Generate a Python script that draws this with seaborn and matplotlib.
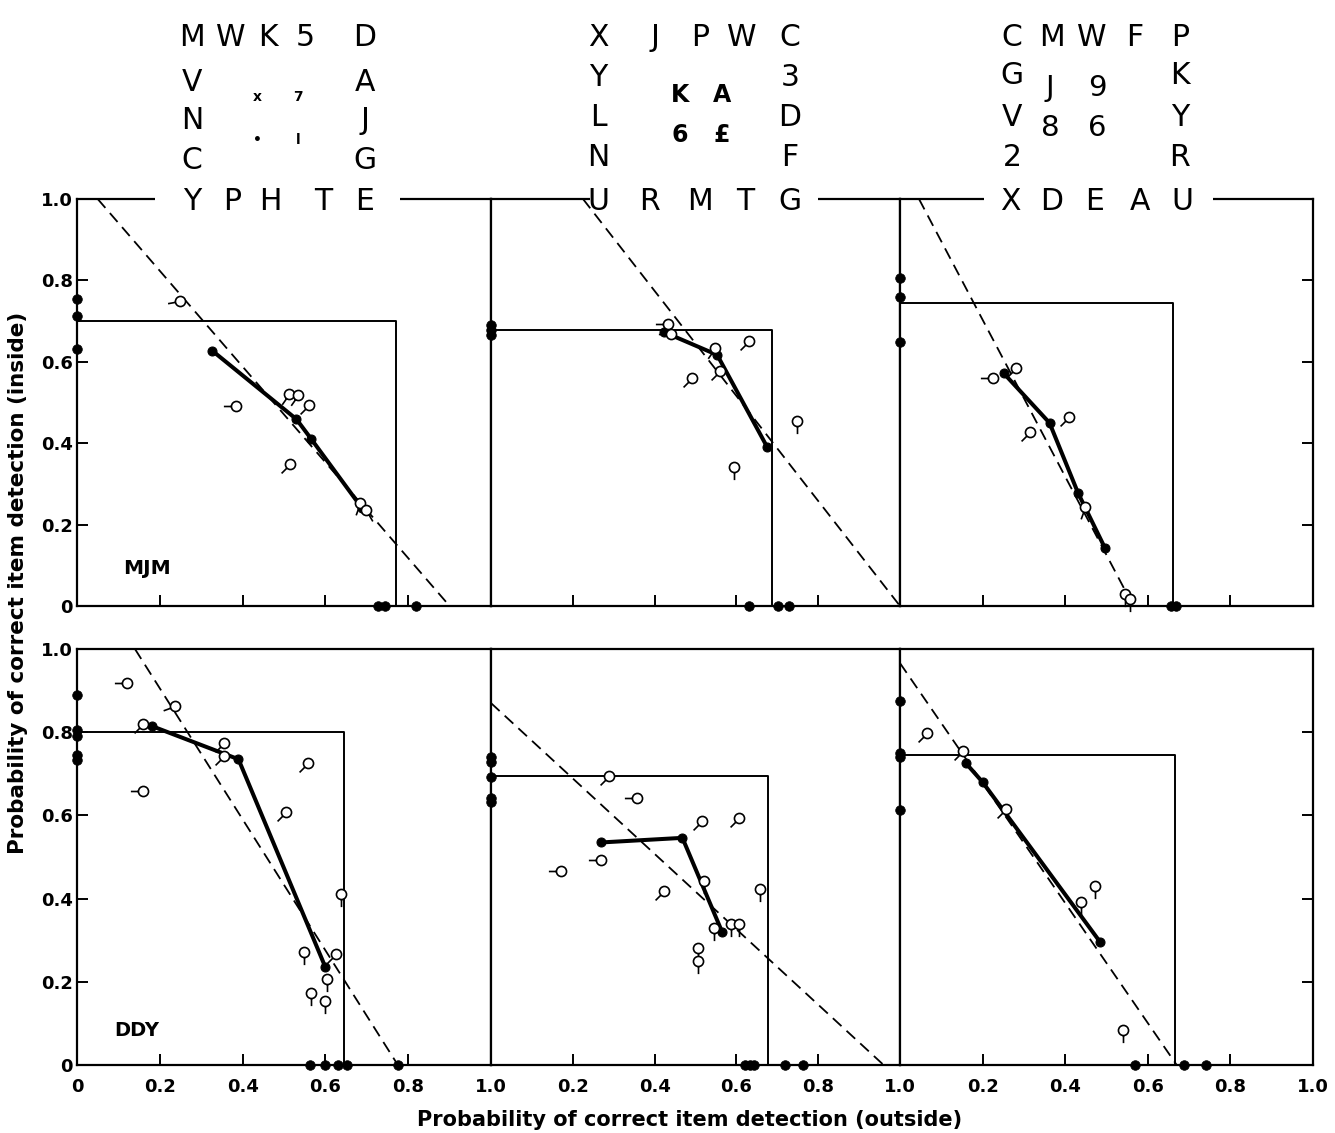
import numpy as np
import matplotlib
matplotlib.use("Agg")
import matplotlib.pyplot as plt
from matplotlib.path import Path
from matplotlib.patches import Rectangle
import seaborn as sns

# ---------------- text content ----------------
TICKS = [0.0, 0.2, 0.4, 0.6, 0.8, 1.0]
TICK_LABELS = ["0", "0.2", "0.4", "0.6", "0.8", "1.0"]
Y_LABEL = "Probability of correct item detection (inside)"
X_LABEL = "Probability of correct item detection (outside)"
SUBJECT_TOP = "MJM"
SUBJECT_BOTTOM = "DDY"

GRID1_ROWS = ["MWK5D", "VA", "NJ", "CG", "YPHTE"]
GRID1_INNER = ["x7", "•l"]
GRID2_ROWS = ["XJPWC", "Y3", "LD", "NF", "URMTG"]
GRID2_INNER = ["KA", "6£"]
GRID3_ROWS = ["CMWFP", "GK", "VY", "2R", "XDEAU"]
GRID3_INNER = ["J9", "86"]

# ---------------- data: top row (MJM) ----------------
T1_BOX = [0.77, 0.70]
T1_DASH_X = [0.05, 0.90]
T1_DASH_Y = [1.0, 0.0]
T1_LINE_X = [0.327, 0.53, 0.566, 0.688]
T1_LINE_Y = [0.627, 0.459, 0.41, 0.241]
T1_YDOTS = [0.754, 0.712, 0.631]
T1_XDOTS = [0.727, 0.744, 0.82]
T1_OPEN_X = [0.249, 0.383, 0.513, 0.534, 0.561, 0.515, 0.683, 0.698]
T1_OPEN_Y = [0.749, 0.491, 0.521, 0.518, 0.494, 0.349, 0.253, 0.236]
T1_OPEN_TAIL = [190, 180, 235, 235, 225, 225, 250, 300]

T2_BOX = [0.687, 0.678]
T2_DASH_X = [0.225, 1.0]
T2_DASH_Y = [1.0, 0.0]
T2_LINE_X = [0.423, 0.553, 0.675]
T2_LINE_Y = [0.673, 0.617, 0.391]
T2_YDOTS = [0.69, 0.677, 0.665]
T2_XDOTS = [0.631, 0.702, 0.729]
T2_OPEN_X = [0.433, 0.44, 0.548, 0.56, 0.491, 0.631, 0.748, 0.594]
T2_OPEN_Y = [0.693, 0.668, 0.634, 0.577, 0.56, 0.651, 0.455, 0.341]
T2_OPEN_TAIL = [180, 180, 235, 225, 225, 225, 270, 270]

T3_BOX = [0.66, 0.745]
T3_DASH_X = [0.046, 0.565]
T3_DASH_Y = [1.0, 0.0]
T3_LINE_X = [0.251, 0.362, 0.431, 0.496]
T3_LINE_Y = [0.572, 0.45, 0.278, 0.143]
T3_YDOTS = [0.806, 0.759, 0.649]
T3_XDOTS = [0.657, 0.669]
T3_OPEN_X = [0.226, 0.28, 0.41, 0.314, 0.448, 0.545, 0.558]
T3_OPEN_Y = [0.56, 0.585, 0.465, 0.428, 0.243, 0.03, 0.017]
T3_OPEN_TAIL = [180, 225, 225, 225, 250, 270, 270]

# ---------------- data: bottom row (DDY) ----------------
B1_BOX = [0.645, 0.80]
B1_DASH_X = [0.14, 0.775]
B1_DASH_Y = [1.0, 0.0]
B1_LINE_X = [0.18, 0.39, 0.60]
B1_LINE_Y = [0.815, 0.735, 0.235]
B1_YDOTS = [0.889, 0.805, 0.79, 0.745, 0.733]
B1_XDOTS = [0.562, 0.598, 0.631, 0.651, 0.776]
B1_OPEN_X = [0.121, 0.236, 0.16, 0.16, 0.354, 0.354, 0.558, 0.505, 0.637,
             0.548, 0.625, 0.603, 0.565, 0.60]
B1_OPEN_Y = [0.918, 0.863, 0.82, 0.659, 0.774, 0.743, 0.725, 0.608, 0.411,
             0.271, 0.267, 0.207, 0.173, 0.154]
B1_OPEN_TAIL = [180, 200, 225, 180, 225, 225, 225, 225, 270, 270, 225, 270, 270, 270]

B2_BOX = [0.677, 0.695]
B2_DASH_X = [0.0, 0.96]
B2_DASH_Y = [0.87, 0.0]
B2_LINE_X = [0.27, 0.468, 0.565]
B2_LINE_Y = [0.535, 0.546, 0.32]
B2_YDOTS = [0.74, 0.728, 0.692, 0.642, 0.632]
B2_XDOTS = [0.62, 0.634, 0.643, 0.72, 0.762]
B2_OPEN_X = [0.289, 0.357, 0.515, 0.607, 0.27, 0.17, 0.422, 0.522, 0.658,
             0.546, 0.587, 0.607, 0.505, 0.505]
B2_OPEN_Y = [0.695, 0.642, 0.587, 0.594, 0.493, 0.466, 0.418, 0.442, 0.423,
             0.329, 0.339, 0.339, 0.281, 0.25]
B2_OPEN_TAIL = [225, 180, 225, 225, 180, 180, 225, 270, 270, 270, 270, 270, 270, 270]

B3_BOX = [0.665, 0.745]
B3_DASH_X = [0.0, 0.67]
B3_DASH_Y = [0.966, 0.0]
B3_LINE_X = [0.16, 0.2, 0.485]
B3_LINE_Y = [0.725, 0.68, 0.295]
B3_YDOTS = [0.875, 0.75, 0.74, 0.613]
B3_XDOTS = [0.569, 0.688, 0.741]
B3_OPEN_X = [0.065, 0.153, 0.257, 0.438, 0.472, 0.54]
B3_OPEN_Y = [0.798, 0.755, 0.615, 0.392, 0.43, 0.084]
B3_OPEN_TAIL = [225, 225, 225, 270, 270, 270]

# ---------------- assemble panel table ----------------
def panel(box, dx, dy, lx, ly, yd, xd, ox, oy, ot):
    return dict(box=box, dx=dx, dy=dy, lx=lx, ly=ly, yd=yd, xd=xd, ox=ox, oy=oy, ot=ot)

PANELS = [
    [panel(T1_BOX, T1_DASH_X, T1_DASH_Y, T1_LINE_X, T1_LINE_Y, T1_YDOTS, T1_XDOTS, T1_OPEN_X, T1_OPEN_Y, T1_OPEN_TAIL),
     panel(T2_BOX, T2_DASH_X, T2_DASH_Y, T2_LINE_X, T2_LINE_Y, T2_YDOTS, T2_XDOTS, T2_OPEN_X, T2_OPEN_Y, T2_OPEN_TAIL),
     panel(T3_BOX, T3_DASH_X, T3_DASH_Y, T3_LINE_X, T3_LINE_Y, T3_YDOTS, T3_XDOTS, T3_OPEN_X, T3_OPEN_Y, T3_OPEN_TAIL)],
    [panel(B1_BOX, B1_DASH_X, B1_DASH_Y, B1_LINE_X, B1_LINE_Y, B1_YDOTS, B1_XDOTS, B1_OPEN_X, B1_OPEN_Y, B1_OPEN_TAIL),
     panel(B2_BOX, B2_DASH_X, B2_DASH_Y, B2_LINE_X, B2_LINE_Y, B2_YDOTS, B2_XDOTS, B2_OPEN_X, B2_OPEN_Y, B2_OPEN_TAIL),
     panel(B3_BOX, B3_DASH_X, B3_DASH_Y, B3_LINE_X, B3_LINE_Y, B3_YDOTS, B3_XDOTS, B3_OPEN_X, B3_OPEN_Y, B3_OPEN_TAIL)],
]

# ---------------- style ----------------
sns.set_theme(style="white")
plt.rcParams['font.family'] = ['DejaVu Sans']
plt.rcParams['axes.linewidth'] = 1.6
plt.rcParams['axes.edgecolor'] = 'black'
plt.rcParams['text.color'] = 'black'
plt.rcParams['xtick.color'] = 'black'
plt.rcParams['ytick.color'] = 'black'
plt.rcParams['xtick.labelcolor'] = 'black'
plt.rcParams['ytick.labelcolor'] = 'black'

W, H = 1335, 1133
fig = plt.figure(figsize=(W / 100, H / 100), dpi=100)
fig.patch.set_facecolor('white')

COLS = [(77, 414), (491, 409), (900, 413)]   # left px, width px
ROWS = [(199, 606), (649, 1065)]            # top px, bottom px


def tail_marker(angle):
    a = np.deg2rad(angle)
    circ = Path.circle((0, 0), 1.0)
    L = 2.5
    verts = list(circ.vertices) + [(L, L), (np.cos(a), np.sin(a)),
                                   (L * np.cos(a), L * np.sin(a))]
    codes = list(circ.codes) + [Path.MOVETO, Path.MOVETO, Path.LINETO]
    return Path(verts, codes)


for r, (ytop, ybot) in enumerate(ROWS):
    for c, (xl, w) in enumerate(COLS):
        p = PANELS[r][c]
        ax = fig.add_axes([xl / W, 1 - ybot / H, w / W, (ybot - ytop) / H])
        ax.set_facecolor('white')
        # box
        ax.plot([0, p['box'][0], p['box'][0]], [p['box'][1], p['box'][1], 0],
                color='black', lw=1.4, zorder=2)
        # dashed reference line
        sns.lineplot(x=p['dx'], y=p['dy'], ax=ax, color='black', lw=1.3,
                     linestyle=(0, (6.5, 3.8)), sort=False, estimator=None, zorder=2)
        # thick line with filled dots
        sns.lineplot(x=p['lx'], y=p['ly'], ax=ax, color='black', lw=2.9,
                     marker='o', markersize=6.5, markeredgecolor='black',
                     sort=False, estimator=None, zorder=3)
        # dots on axes
        sns.scatterplot(x=[0.0] * len(p['yd']), y=p['yd'], ax=ax, color='black',
                        s=48, edgecolor='black', linewidth=0.5, clip_on=False, zorder=6)
        sns.scatterplot(x=p['xd'], y=[0.0] * len(p['xd']), ax=ax, color='black',
                        s=48, edgecolor='black', linewidth=0.5, clip_on=False, zorder=6)
        # open circles with tails
        for ang in sorted(set(p['ot'])):
            idx = [i for i, t in enumerate(p['ot']) if t == ang]
            sns.scatterplot(x=[p['ox'][i] for i in idx], y=[p['oy'][i] for i in idx],
                            ax=ax, marker=tail_marker(ang), s=330, color='white',
                            edgecolor='black', linewidth=1.2, clip_on=False, zorder=5)
        ax.set_xlim(0, 1)
        ax.set_ylim(0, 1)
        ax.set_xlabel('')
        ax.set_ylabel('')
        for s in ax.spines.values():
            s.set_visible(True)
            s.set_linewidth(1.6)
            s.set_color('black')
        ax.set_xticks(TICKS)
        ax.set_yticks(TICKS)
        xl_labels = list(TICK_LABELS)
        if c > 0:
            xl_labels[0] = ''
        ax.set_xticklabels(xl_labels, fontsize=13, fontweight='bold', color='black')
        ax.set_yticklabels(TICK_LABELS, fontsize=13, fontweight='bold', color='black')
        ax.tick_params(axis='both', direction='in', length=8, width=1.4, colors='black')
        ax.tick_params(axis='x', bottom=True, top=False, labelbottom=(r == 1), pad=9)
        ax.tick_params(axis='y', left=(c == 0), right=(c == 2),
                       labelleft=(c == 0), labelright=False, pad=3)
        if r == 0 and c == 0:
            ax.text(0.17, 0.093, SUBJECT_TOP, fontsize=14.5, fontweight='bold',
                    ha='center', va='center', color='black')
        if r == 1 and c == 0:
            ax.text(0.145, 0.084, SUBJECT_BOTTOM, fontsize=14, fontweight='bold',
                    ha='center', va='center', color='black')

# gaps in the top border where the bottom letter row sits
for x1, x2 in [(155, 400), (590, 818), (984, 1213)]:
    fig.add_artist(Rectangle((x1 / W, 1 - 206 / H), (x2 - x1) / W, 14 / H,
                             transform=fig.transFigure, facecolor='white',
                             edgecolor='none', zorder=5))

# letter grids
GRIDS = [
    dict(rows=GRID1_ROWS, inner=GRID1_INNER, row_y=[35, 80, 118, 158, 199],
         row1_x=[192, 231, 268, 305, 365], side_x=[192, 365],
         row5_x=[192, 232, 270, 323, 365], inner_x=[257, 298], inner_y=[97, 140],
         inner_fs=10, inner_w='bold'),
    dict(rows=GRID2_ROWS, inner=GRID2_INNER, row_y=[35, 75, 115, 155, 199],
         row1_x=[598, 655, 700, 742, 790], side_x=[598, 790],
         row5_x=[598, 650, 700, 745, 790], inner_x=[680, 722], inner_y=[95, 135],
         inner_fs=17, inner_w='bold'),
    dict(rows=GRID3_ROWS, inner=GRID3_INNER, row_y=[35, 73, 115, 155, 199],
         row1_x=[1012, 1052, 1092, 1135, 1180], side_x=[1012, 1180],
         row5_x=[1010, 1052, 1095, 1140, 1182], inner_x=[1050, 1097], inner_y=[88, 128],
         inner_fs=21, inner_w='normal'),
]
CAP = 11  # half cap height in px, to place baselines
for g in GRIDS:
    for ri, row in enumerate(g['rows']):
        if ri == 0:
            xs = g['row1_x']
        elif ri == len(g['rows']) - 1:
            xs = g['row5_x']
        else:
            xs = g['side_x']
        for ch, x in zip(row, xs):
            fig.text(x / W, 1 - (g['row_y'][ri] + CAP) / H, ch, fontsize=21.5,
                     ha='center', va='baseline', zorder=6, color='black')
    for ii, row in enumerate(g['inner']):
        for ch, x in zip(row, g['inner_x']):
            fig.text(x / W, 1 - g['inner_y'][ii] / H, ch, fontsize=g['inner_fs'],
                     fontweight=g['inner_w'], ha='center', va='center', zorder=6,
                     color='black')

# axis labels
fig.text(18 / W, 1 - 583 / H, Y_LABEL, rotation=90, fontsize=15.5, fontweight='bold',
         ha='center', va='center', color='black')
fig.text(690 / W, 1 - 1120 / H, X_LABEL, fontsize=15, fontweight='bold',
         ha='center', va='center', color='black')

fig.savefig('out.png', dpi=100, facecolor='white')
